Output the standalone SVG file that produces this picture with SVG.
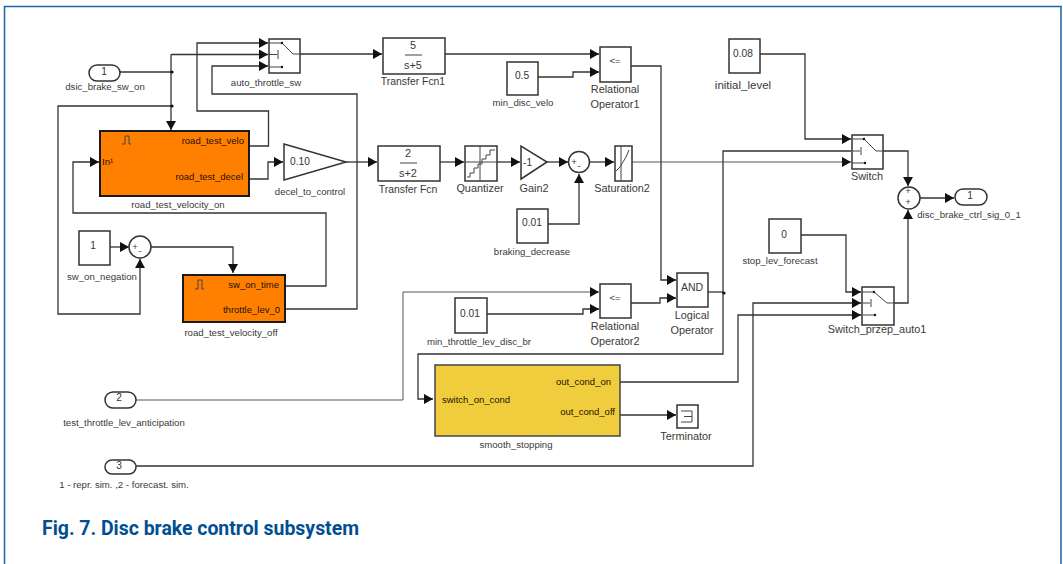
<svg xmlns="http://www.w3.org/2000/svg" width="1063" height="564" viewBox="0 0 1063 564">
<defs>
<marker id="a" markerUnits="userSpaceOnUse" markerWidth="10" markerHeight="11" viewBox="0 0 10 11" refX="9" refY="5.5" orient="auto"><path d="M0 0.5L9 5.5L0 10.5Z" fill="#111"/></marker>
</defs>
<style>
text{font-family:"Liberation Sans",Arial,sans-serif;font-size:9.6px;fill:#3a3a3a}
.c{text-anchor:middle}
.e{text-anchor:end}
.v{font-size:10.2px;fill:#333}
.l{font-size:10.9px}
.f{font-size:10.4px}
.b{fill:#fff;stroke:#333;stroke-width:1.5}
.o{fill:#ff8000;stroke:#1a1a1a;stroke-width:2}
.y{fill:#f0cd3c;stroke:#444;stroke-width:1.5}
.i{fill:#1e1200;font-size:9.5px}
.g{fill:none;stroke:#444;stroke-width:1}
.w path{fill:none;stroke:#333;stroke-width:1.3}
.t path{stroke-width:1;stroke:#555}
.p{fill:#111}
</style>
<path d="M4.500 564V6.500H1061V564" fill="#fff" stroke="#1a64a8" stroke-width="1.500"/>
<g id="connectors" class="w">
<path d="M120 72H172"/>
<path d="M171 54.500V130" marker-end="url(#a)"/>
<path d="M171 54.500H268" marker-end="url(#a)"/>
<path d="M172 106H58V314H140V259" marker-end="url(#a)"/>
<path d="M249 146H268.500V111H197V43H268" marker-end="url(#a)"/>
<path d="M249 179H268V162H283" marker-end="url(#a)"/>
<path d="M346 162H377" marker-end="url(#a)"/>
<path d="M285 309H357V94H212V66H268" marker-end="url(#a)"/>
<path d="M285 286H326V213H73V162H99" marker-end="url(#a)"/>
<path d="M110 247H129" marker-end="url(#a)"/>
<path d="M151 247H233V273" marker-end="url(#a)"/>
<path d="M300 54H382" marker-end="url(#a)"/>
<path d="M445 54H599" marker-end="url(#a)"/>
<path d="M538 77H573V72H599" marker-end="url(#a)"/>
<path d="M631 66H661V280H676" marker-end="url(#a)"/>
<path d="M440 162H464" marker-end="url(#a)"/>
<path d="M497 162H520" marker-end="url(#a)"/>
<path d="M547 162H568" marker-end="url(#a)"/>
<path d="M590 162H614" marker-end="url(#a)"/>
<path d="M548 224H579V174" marker-end="url(#a)"/>
<path d="M760 54H805V139H851" marker-end="url(#a)"/>
<path d="M708 292H723"/>
<path d="M851 151H723V354H418V399H433" marker-end="url(#a)"/>
<path d="M883 151H908V186" marker-end="url(#a)"/>
<path d="M894 303H908V210" marker-end="url(#a)"/>
<path d="M920 198H954" marker-end="url(#a)"/>
<path d="M801 235H846V292H861" marker-end="url(#a)"/>
<path d="M487 314H583V309H599" marker-end="url(#a)"/>
<path d="M631 303H660V298H676" marker-end="url(#a)"/>
<path d="M620 382H738V315H861" marker-end="url(#a)"/>
<path d="M620 415H676" marker-end="url(#a)"/>
<path d="M136 466H753V303H861" marker-end="url(#a)"/>
<g class="t">
<path d="M136 400H403V292H599" marker-end="url(#a)"/>
<path d="M632 162H851" marker-end="url(#a)"/>
</g>
<circle class="p" cx="172" cy="72" r="1.600"/>
<circle class="p" cx="172" cy="106" r="1.600"/>
<circle class="p" cx="724" cy="293" r="1.600"/>
</g>
<g id="inport1"><rect class="b" x="89" y="65" width="31" height="16" rx="8"/><text class="c v" x="104" y="75">1</text><text class="c" x="105" y="90">dsic_brake_sw_on</text></g>
<g id="auto_throttle_sw"><rect class="b" x="269" y="39" width="31" height="34"/><path class="g" d="M269 43H282L293 54H300M269 54.500H277M278 50V59M269 67H282"/><circle class="p" cx="282" cy="43" r="1.200"/><circle class="p" cx="282" cy="67" r="1.200"/><text class="c" x="266" y="86">auto_throttle_sw</text></g>
<g id="road_test_velocity_on"><rect class="o" x="100" y="131" width="149" height="65"/><path class="g" d="M122 144H125V136H129V144H131"/><text class="i" x="102" y="165">In¹</text><text class="i e" x="244" y="144">road_test_velo</text><text class="i e" x="243" y="180">road_test_decel</text><text class="c" x="178" y="208">road_test_velocity_on</text></g>
<g id="decel_to_control"><path class="b" d="M284 144V180L346 162Z"/><text class="v" x="290" y="165">0.10</text><text class="c" x="310" y="195">decel_to_control</text></g>
<g id="sw_on_negation"><rect class="b" x="79" y="231" width="31" height="34"/><text class="c v" x="93" y="249">1</text><text class="c" x="102" y="280">sw_on_negation</text></g>
<g id="sum1"><circle class="b" cx="140" cy="247" r="11"/><text class="c" x="135" y="250">+</text><text class="c" x="140" y="254">-</text></g>
<g id="road_test_velocity_off"><rect class="o" x="183" y="275" width="102" height="47"/><path class="g" d="M195 289H198V280H202V289H204"/><text class="i e" x="279" y="288">sw_on_time</text><text class="i e" x="280" y="313">throttle_lev_0</text><text class="c" x="231" y="336">road_test_velocity_off</text></g>
<g id="transfer_fcn1"><rect class="b" x="383" y="38" width="62" height="36"/><path class="g" d="M405 55H422"/><text class="c l" x="413" y="49">5</text><text class="c l" x="413" y="69">s+5</text><text class="c f" x="413" y="85">Transfer Fcn1</text></g>
<g id="min_disc_velo"><rect class="b" x="507" y="62" width="31" height="33"/><text class="c v" x="522" y="79">0.5</text><text class="c" x="523" y="106">min_disc_velo</text></g>
<g id="relational_operator1"><rect class="b" x="600" y="47" width="31" height="35"/><text class="c" x="615" y="64">&lt;=</text><text class="c l" x="615" y="93">Relational</text><text class="c l" x="615" y="108">Operator1</text></g>
<g id="transfer_fcn"><rect class="b" x="378" y="146" width="62" height="35"/><path class="g" d="M400 163H417"/><text class="c l" x="408" y="157">2</text><text class="c l" x="408" y="177">s+2</text><text class="c f" x="408" y="193">Transfer Fcn</text></g>
<g id="quantizer"><rect class="b" x="465" y="146" width="32" height="35"/><path class="g" d="M480 146V181M465 162H497"/><path class="g" d="M467 177H470V173H474V168H478V164H482V159H486V155H490V150H495"/><text class="c l" x="480" y="192">Quantizer</text></g>
<g id="gain2"><path class="b" d="M521 146V179L547 162Z"/><text class="v" x="523" y="166">-1</text><text class="c l" x="534" y="192">Gain2</text></g>
<g id="sum2"><circle class="b" cx="579" cy="162" r="10.500"/><text class="c" x="574" y="165">+</text><text class="c" x="579" y="169">-</text></g>
<g id="braking_decrease"><rect class="b" x="517" y="209" width="31" height="34"/><text class="c v" x="532" y="226">0.01</text><text class="c" x="532" y="255">braking_decrease</text></g>
<g id="saturation2"><rect class="b" x="615" y="146" width="17" height="35"/><path class="g" d="M621 146V181M616 171L620 167L626 157L629 150"/><text class="c l" x="622" y="192">Saturation2</text></g>
<g id="initial_level"><rect class="b" x="729" y="39" width="31" height="34"/><text class="c v" x="743" y="57">0.08</text><text class="c" x="743" y="89" style="font-size:11.500px">initial_level</text></g>
<g id="switch"><rect class="b" x="852" y="135" width="31" height="34"/><path class="g" d="M852 139H864L876 151H883M852 151H860M861 147V155M852 163H865"/><circle class="p" cx="864" cy="139" r="1.200"/><circle class="p" cx="865" cy="163" r="1.200"/><text class="c l" x="867" y="180">Switch</text></g>
<g id="sum3"><circle class="b" cx="909" cy="198" r="11"/><text class="c" x="908" y="194">+</text><text class="c" x="908" y="205">+</text></g>
<g id="outport1"><rect class="b" x="955" y="189" width="32" height="16" rx="8"/><text class="c v" x="970" y="199">1</text><text class="c" x="969" y="218">disc_brake_ctrl_sig_0_1</text></g>
<g id="stop_lev_forecast"><rect class="b" x="769" y="219" width="32" height="34"/><text class="c v" x="784" y="238">0</text><text class="c" x="780" y="264">stop_lev_forecast</text></g>
<g id="switch_przep_auto1"><rect class="b" x="862" y="287" width="32" height="38"/><path class="g" d="M862 292H874L887 303H894M862 303H870M871 299V307M862 315H875"/><circle class="p" cx="874" cy="292" r="1.200"/><circle class="p" cx="875" cy="315" r="1.200"/><text class="c l" x="877" y="333">Switch_przep_auto1</text></g>
<g id="logical_operator"><rect class="b" x="677" y="273" width="31" height="34"/><text class="c" x="692" y="291" style="font-size:10.500px">AND</text><text class="c l" x="692" y="319">Logical</text><text class="c l" x="692" y="334">Operator</text></g>
<g id="relational_operator2"><rect class="b" x="600" y="284" width="31" height="34"/><text class="c" x="615" y="301">&lt;=</text><text class="c l" x="615" y="330">Relational</text><text class="c l" x="615" y="345">Operator2</text></g>
<g id="min_throttle_lev_disc_br"><rect class="b" x="455" y="298" width="32" height="35"/><text class="c v" x="470" y="317">0.01</text><text class="c" x="479" y="345">min_throttle_lev_disc_br</text></g>
<g id="inport2"><rect class="b" x="105" y="392" width="31" height="16" rx="8"/><text class="c v" x="119" y="401">2</text><text class="c" x="124" y="426">test_throttle_lev_anticipation</text></g>
<g id="smooth_stopping"><rect class="y" x="435" y="365" width="185" height="71"/><text class="i" x="442" y="403">switch_on_cond</text><text class="i e" x="611" y="385">out_cond_on</text><text class="i e" x="615" y="415">out_cond_off</text><text class="c" x="516" y="448">smooth_stopping</text></g>
<g id="terminator"><rect class="b" x="677" y="405" width="21" height="23"/><path class="g" d="M681 411H692V422H681M684 416.500H692"/><text class="c l" x="686" y="440">Terminator</text></g>
<g id="inport3"><rect class="b" x="105" y="460" width="31" height="14" rx="7"/><text class="c v" x="119" y="469">3</text><text class="c" x="124" y="488">1 - repr. sim. ,2 - forecast. sim.</text></g>
<text x="42" y="535" textLength="317" lengthAdjust="spacingAndGlyphs" style="font-family:Roboto,'Liberation Sans',sans-serif;font-size:19.500px;font-weight:700;fill:#004f93">Fig. 7. Disc brake control subsystem</text>
</svg>
